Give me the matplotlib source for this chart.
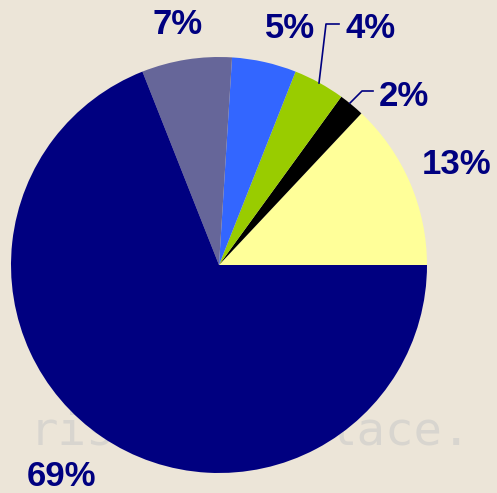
import matplotlib
matplotlib.use('Agg')
import matplotlib.pyplot as plt

valores = [13, 2, 4, 5, 7, 69]
rotulos = ['13%', '2%', '4%', '5%', '7%', '69%']
cores = ['#FFFF99', '#000000', '#99CC00', '#3366FF', '#666699', '#000080']

W, H = 497, 493
fig = plt.figure(figsize=(W / 100, H / 100), dpi=100)
fig.patch.set_facecolor('#ECE5D8')
ax = fig.add_axes([0, 0, 1, 1])
ax.set_facecolor('#ECE5D8')

# marca d'agua do fundo
ax.text(30, H - 432, 'ris', fontsize=34, family='DejaVu Sans Mono',
        color='#D8D5CF', ha='left', va='center', zorder=0)
ax.text(328, H - 432, 'lace.', fontsize=34, family='DejaVu Sans Mono',
        color='#D8D5CF', ha='left', va='center', zorder=0)

cx, cy, r = 219, H - 265, 208
ax.pie(valores, colors=cores, startangle=0, counterclock=True,
       center=(cx, cy), radius=r, frame=True,
       wedgeprops=dict(linewidth=0))
ax.set_xlim(0, W)
ax.set_ylim(0, H)
ax.set_aspect('equal')
ax.axis('off')

# posicoes dos rotulos (pixels da imagem)
pos = [(457, 165), (404, 97), (371, 28), (290, 28), (178, 24), (62, 476)]
for (x, y), txt in zip(pos, rotulos):
    ax.text(x, H - y, txt, fontsize=25, fontweight='bold', family='Liberation Sans',
            color='#000080', ha='center', va='center', zorder=5)

# linhas de chamada
ax.plot([319, 326, 339], [H - 83, H - 24, H - 24], color='#000080', lw=1.2, zorder=4)
ax.plot([350, 362, 373], [H - 103, H - 91, H - 91], color='#000080', lw=1.2, zorder=4)

fig.savefig('out.png', dpi=100, facecolor=fig.get_facecolor())
